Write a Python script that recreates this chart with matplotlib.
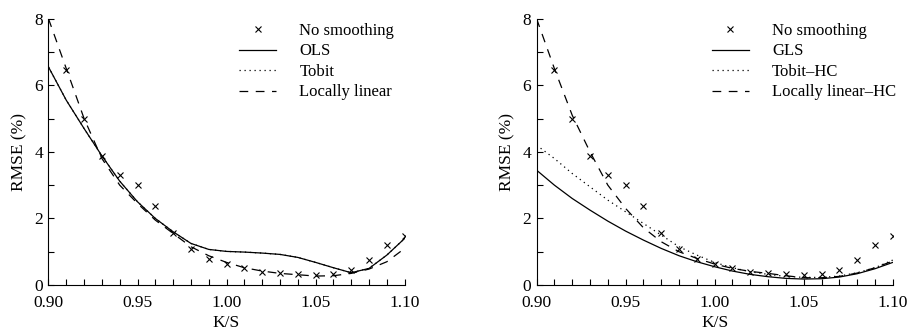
import numpy as np
import matplotlib
matplotlib.use('Agg')
import matplotlib.pyplot as plt
from matplotlib.ticker import MultipleLocator, FormatStrFormatter

plt.rcParams['font.family'] = ['Liberation Serif', 'DejaVu Serif']
plt.rcParams['font.size'] = 12.5

# raw points (no smoothing)
ks_pts = [0.91, 0.92, 0.93, 0.94, 0.95, 0.96, 0.97, 0.98, 0.99, 1.00,
          1.01, 1.02, 1.03, 1.04, 1.05, 1.06, 1.07, 1.08, 1.09, 1.10]
rmse_raw = [6.45, 4.98, 3.88, 3.30, 2.99, 2.37, 1.57, 1.08, 0.79, 0.62,
            0.50, 0.40, 0.35, 0.32, 0.29, 0.32, 0.44, 0.74, 1.20, 1.48]

# smoothed curves, read on a 0.01 grid
ks_grid = [0.90, 0.91, 0.92, 0.93, 0.94, 0.95, 0.96, 0.97, 0.98, 0.99, 1.00,
           1.01, 1.02, 1.03, 1.04, 1.05, 1.06, 1.07, 1.08, 1.09, 1.10]

ols = [6.55, 5.55, 4.70, 3.88, 3.12, 2.50, 2.00, 1.60, 1.25, 1.07, 1.01,
       0.99, 0.96, 0.92, 0.83, 0.68, 0.52, 0.37, 0.50, 0.90, 1.40]
tobit = [6.55, 5.55, 4.70, 3.88, 3.12, 2.50, 2.00, 1.60, 1.25, 1.07, 1.01,
         0.99, 0.96, 0.92, 0.83, 0.68, 0.52, 0.37, 0.50, 0.90, 1.40]
loclin = [8.00, 6.50, 5.00, 3.80, 3.00, 2.45, 1.95, 1.55, 1.15, 0.88, 0.68,
          0.52, 0.42, 0.35, 0.31, 0.27, 0.28, 0.35, 0.48, 0.70, 1.10]

gls = [3.45, 3.00, 2.60, 2.25, 1.92, 1.62, 1.35, 1.10, 0.88, 0.70, 0.55,
       0.42, 0.32, 0.25, 0.20, 0.18, 0.19, 0.24, 0.34, 0.49, 0.68]
tobit_hc = [4.20, 3.80, 3.35, 2.95, 2.55, 2.20, 1.85, 1.50, 1.15, 0.90, 0.68,
            0.52, 0.40, 0.32, 0.26, 0.23, 0.23, 0.27, 0.37, 0.52, 0.75]
loclin_hc = [8.00, 6.50, 5.10, 4.00, 3.00, 2.30, 1.72, 1.30, 1.00, 0.80, 0.63,
             0.50, 0.41, 0.35, 0.28, 0.22, 0.22, 0.26, 0.36, 0.52, 0.72]

panels = [
    (['No smoothing', 'OLS', 'Tobit', 'Locally linear'], ols, tobit, loclin),
    (['No smoothing', 'GLS', 'Tobit\u2013HC', 'Locally linear\u2013HC'], gls, tobit_hc, loclin_hc),
]

fig = plt.figure(figsize=(9.11, 3.33), dpi=100)
lefts = [0.0532, 0.589]
leg_x = [0.517, 0.474]

for left, lx, (labels, solid, dotted, dashed) in zip(lefts, leg_x, panels):
    ax = fig.add_axes([left, 0.144, 0.391, 0.800])
    ax.plot(ks_pts, rmse_raw, 'x', color='black', ms=4.5, mew=0.8, label=labels[0])
    ax.plot(ks_grid, solid, '-', color='black', lw=0.9, label=labels[1])
    ax.plot(ks_grid, dotted, color='black', lw=0.9, linestyle=(0, (1, 3)), label=labels[2])
    ax.plot(ks_grid, dashed, color='black', lw=0.9, linestyle=(0, (7, 6)), label=labels[3])

    ax.set_xlim(0.90, 1.10)
    ax.set_ylim(0, 8)
    ax.spines['top'].set_visible(False)
    ax.spines['right'].set_visible(False)
    ax.xaxis.set_major_locator(MultipleLocator(0.05))
    ax.xaxis.set_minor_locator(MultipleLocator(0.01))
    ax.xaxis.set_major_formatter(FormatStrFormatter('%.2f'))
    ax.yaxis.set_major_locator(MultipleLocator(2))
    ax.yaxis.set_minor_locator(MultipleLocator(1))
    ax.tick_params(which='both', direction='in', length=4, width=0.8)
    ax.tick_params(axis='x', pad=7)
    ax.tick_params(axis='y', pad=4)
    ax.set_xlabel('K/S', labelpad=3)
    ax.set_ylabel('RMSE (%)', labelpad=5)
    ax.legend(loc='upper left', bbox_to_anchor=(lx, 1.009), frameon=False,
              fontsize=12, handlelength=2.2, handletextpad=1.4, labelspacing=0.27,
              borderaxespad=0)

fig.savefig('out.png', dpi=100)
